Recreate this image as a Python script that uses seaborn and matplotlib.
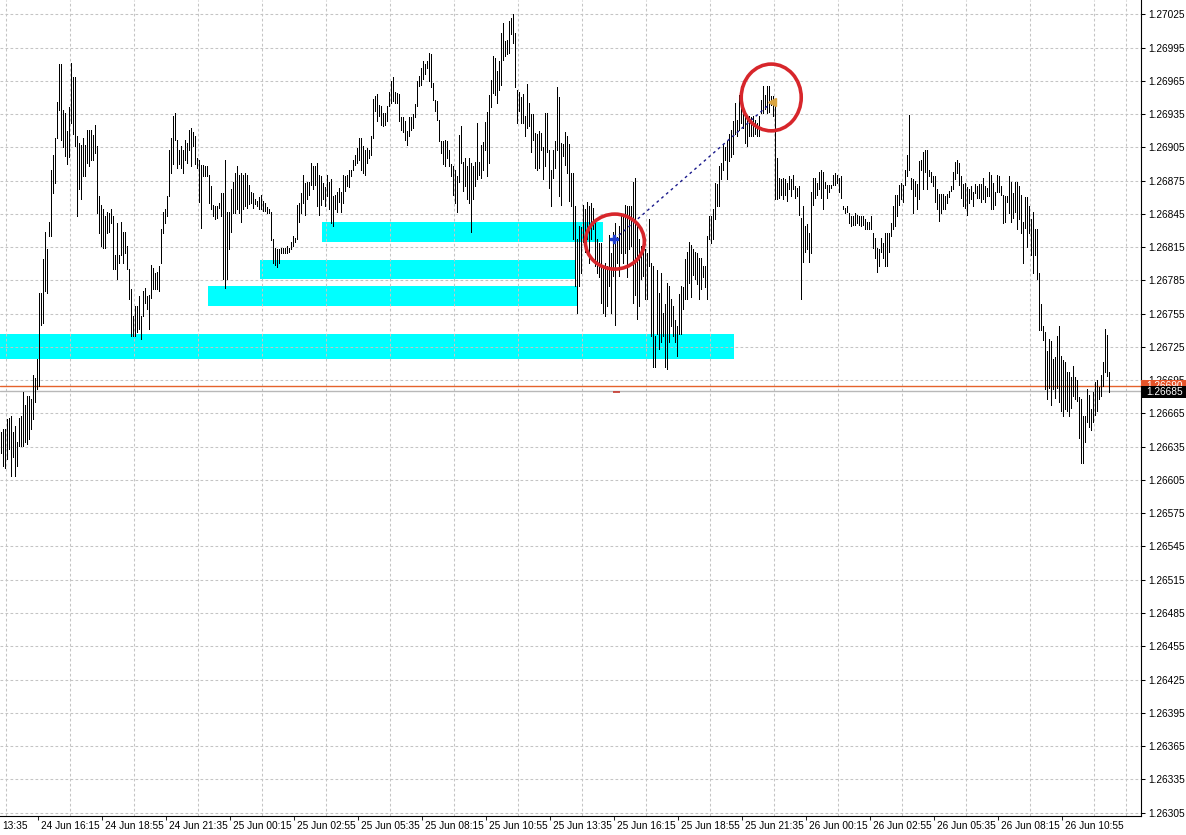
import numpy as np
import pandas as pd
import matplotlib
matplotlib.use("Agg")
import matplotlib.pyplot as plt
import seaborn as sns
from matplotlib.patches import Rectangle, Ellipse
from matplotlib.transforms import blended_transform_factory

# ---------------- data ----------------
BASE = 1.26      # prices are stored as points (1e-5) above 1.26000
PT = 1e-5

# 5-minute bars, left to right: highs and lows in points above 1.26000
bar_high = [
    648, 651, 651, 660, 661, 663, 648, 654, 639, 661, 663, 684, 673, 681, 681, 678, 700, 697, 714, 774, 774, 804, 829, 813, 838,
    885, 898, 913, 946, 980, 980, 939, 936, 920, 941, 981, 968, 968, 915, 909, 907, 913, 907, 921, 921, 921, 916, 925, 906, 861,
    853, 849, 843, 847, 846, 849, 843, 808, 837, 808, 838, 829, 829, 816, 795, 777, 753, 762, 762, 771, 753, 775, 778, 771, 772,
    799, 796, 792, 793, 798, 831, 847, 849, 861, 903, 913, 933, 936, 912, 903, 906, 903, 912, 909, 921, 922, 919, 915, 895, 894,
    889, 889, 888, 888, 880, 870, 853, 852, 852, 855, 864, 864, 894, 847, 847,
    867, 874, 882, 888, 880, 882, 880, 882, 880, 871, 865, 864, 858, 857, 860, 862, 857, 855, 851, 849, 847, 822, 814, 813, 813,
    814, 814, 814, 816, 814, 820, 825, 823, 853, 855, 864, 880, 873, 874, 874, 891, 888, 888, 891, 880, 879, 873, 869, 880, 874,
    876, 861, 862, 865, 868, 865, 880, 879, 880, 885, 885, 894, 898, 904, 913, 913, 906, 903, 904, 903, 915, 949, 951, 953, 943,
    942, 936, 936, 942, 955, 965, 968, 955, 954, 953, 932, 932, 929, 920, 932, 932, 935, 944, 965, 969, 977, 983, 980, 983, 990,
    989, 963, 948, 947, 930, 911, 911, 912, 911, 903, 890, 888, 885, 879,
    916, 924, 892, 895, 888, 895, 891, 888, 892, 927, 892, 907, 910, 928, 937, 952, 966, 987, 986, 974, 983, 1008, 1017, 1001, 1002,
    1019, 1022, 1025, 1008, 957, 955, 950, 953, 933, 962, 945, 935, 935, 918, 917, 920, 918, 905, 936, 936, 903, 885, 903, 911, 959,
    950, 909, 908, 919, 915, 908, 882, 882, 852, 822, 834, 833, 853, 849, 856, 852, 855, 850, 840, 822, 819, 819, 798, 801, 798,
    826, 810, 829, 837, 824, 834, 843, 844, 853, 852, 852, 852, 874, 877, 837, 822, 816, 819, 813, 810, 840, 801, 798, 735, 794,
    774, 792, 756, 764, 783, 780, 768, 762, 749, 744, 773, 780, 779, 804,
    811, 820, 817, 813, 811, 810, 805, 805, 798, 798, 825, 843, 843, 849, 873, 872, 888, 891, 908, 905, 911, 917, 921, 929, 945,
    930, 952, 960, 936, 933, 934, 933, 932, 933, 930, 927, 933, 948, 960, 952, 960, 960, 951, 951, 942, 895, 877, 876, 877, 876,
    873, 879, 876, 880, 870, 868, 870, 841, 852, 834, 836, 828, 865, 877, 877, 873, 883, 885, 883, 874, 871, 871, 871, 880, 882,
    880, 877, 879, 852, 850, 852, 846, 843, 843, 846, 844, 843, 843, 843, 840, 838, 838, 843, 828, 823, 814, 813, 823, 819, 828,
    828, 828, 837, 852, 862, 862, 871, 873, 871, 885, 898, 934, 877, 876,
    875, 872, 893, 894, 901, 903, 903, 885, 883, 879, 879, 867, 863, 863, 863, 861, 863, 866, 870, 883, 892, 894, 891, 879, 872,
    873, 869, 867, 870, 865, 872, 870, 872, 872, 877, 870, 868, 883, 880, 873, 865, 880, 879, 870, 862, 861, 861, 879, 874, 864,
    874, 874, 870, 862, 838, 860, 860, 852, 840, 847, 831, 831, 792, 764, 744, 738, 721, 732, 730, 714, 716, 735, 744, 717, 713,
    711, 702, 702, 698, 708, 698, 695, 680, 678, 663, 663, 687, 682, 669, 684, 693, 695, 689, 700, 711, 741, 736, 702,
]
bar_low = [
    629, 618, 616, 624, 633, 609, 626, 609, 618, 636, 636, 636, 639, 637, 642, 651, 660, 675, 687, 690, 745, 747, 775, 774, 825,
    825, 864, 873, 913, 939, 912, 905, 897, 890, 896, 927, 917, 906, 843, 867, 858, 879, 879, 891, 888, 894, 894, 900, 846, 828,
    816, 814, 814, 828, 829, 837, 795, 795, 786, 801, 808, 801, 810, 795, 768, 735, 735, 735, 738, 741, 732, 753, 765, 759, 741,
    769, 777, 777, 777, 775, 801, 828, 837, 843, 861, 882, 890, 912, 886, 890, 886, 882, 894, 891, 903, 888, 906, 890, 886, 856,
    832, 879, 879, 879, 855, 849, 843, 840, 841, 850, 843, 786, 778, 786, 813,
    829, 846, 846, 849, 846, 838, 849, 852, 850, 854, 855, 850, 854, 852, 849, 849, 848, 848, 846, 846, 821, 801, 799, 797, 801,
    810, 810, 810, 810, 811, 813, 816, 820, 822, 838, 846, 855, 844, 858, 862, 871, 867, 871, 852, 844, 853, 858, 852, 861, 849,
    837, 834, 849, 847, 856, 847, 855, 866, 870, 869, 879, 885, 889, 891, 894, 885, 882, 880, 891, 895, 898, 913, 938, 929, 933,
    925, 924, 925, 929, 942, 945, 947, 945, 945, 929, 921, 919, 912, 907, 915, 921, 922, 932, 942, 960, 961, 967, 971, 977, 965,
    959, 948, 938, 930, 911, 900, 890, 888, 895, 888, 879, 862, 855, 847,
    874, 891, 866, 870, 858, 855, 829, 858, 870, 876, 880, 877, 885, 903, 879, 891, 941, 954, 952, 945, 957, 961, 984, 987, 989,
    990, 1007, 999, 959, 927, 938, 927, 927, 915, 922, 924, 901, 912, 886, 885, 886, 903, 876, 888, 901, 868, 852, 877, 886, 903,
    861, 853, 897, 889, 882, 857, 852, 822, 780, 756, 780, 792, 820, 811, 822, 801, 822, 831, 798, 792, 788, 765, 756, 753, 762,
    780, 756, 789, 745, 801, 789, 810, 801, 810, 788, 813, 816, 765, 772, 750, 762, 786, 789, 768, 768, 798, 735, 707, 707, 737,
    723, 729, 735, 707, 705, 729, 744, 735, 729, 717, 737, 737, 759, 768,
    768, 783, 770, 790, 786, 782, 768, 777, 788, 779, 768, 822, 819, 822, 840, 852, 852, 876, 885, 894, 876, 893, 896, 899, 917,
    915, 921, 927, 922, 909, 906, 915, 915, 915, 917, 915, 915, 936, 936, 940, 936, 937, 943, 933, 858, 858, 859, 862, 858, 862,
    857, 867, 861, 867, 859, 861, 844, 768, 802, 811, 813, 802, 810, 853, 859, 862, 867, 859, 849, 868, 859, 865, 868, 871, 871,
    873, 865, 859, 849, 846, 847, 837, 834, 835, 835, 837, 835, 834, 835, 831, 831, 831, 831, 814, 805, 793, 798, 811, 805, 798,
    798, 811, 825, 831, 834, 843, 853, 858, 856, 871, 879, 885, 867, 846,
    861, 849, 858, 885, 867, 883, 867, 879, 874, 870, 856, 849, 839, 846, 849, 849, 855, 860, 866, 867, 876, 882, 871, 859, 852,
    850, 844, 855, 858, 852, 864, 859, 859, 856, 858, 856, 861, 861, 849, 849, 853, 865, 865, 862, 837, 838, 856, 846, 838, 841,
    847, 831, 840, 828, 801, 832, 815, 828, 808, 792, 808, 786, 740, 740, 731, 687, 678, 688, 673, 687, 679, 688, 675, 667, 663,
    669, 667, 663, 670, 681, 678, 676, 643, 620, 620, 639, 657, 653, 650, 657, 664, 667, 678, 681, 690, 702, 699, 684,
]
assert len(bar_high) == len(bar_low)

# time axis labels (one every 32 bars)
time_labels = ["24 Jun 16:15", "24 Jun 18:55", "24 Jun 21:35", "25 Jun 00:15", "25 Jun 02:55",
               "25 Jun 05:35", "25 Jun 08:15", "25 Jun 10:55", "25 Jun 13:35", "25 Jun 16:15",
               "25 Jun 18:55", "25 Jun 21:35", "26 Jun 00:15", "26 Jun 02:55", "26 Jun 05:35",
               "26 Jun 08:15", "26 Jun 10:55"]
first_label_tail = "13:35"

# price axis labels
price_ticks = [1.27025, 1.26995, 1.26965, 1.26935, 1.26905, 1.26875, 1.26845, 1.26815, 1.26785,
               1.26755, 1.26725, 1.26695, 1.26665, 1.26635, 1.26605, 1.26575, 1.26545, 1.26515,
               1.26485, 1.26455, 1.26425, 1.26395, 1.26365, 1.26335, 1.26305]

# cyan zones: start bar, end bar, low and high (points)
zone_start = [160.7, 129.7, 103.7, -1.0]
zone_end = [301.2, 287.2, 288.2, 366.7]
zone_low = [820, 786, 762, 714]
zone_high = [838, 803, 780, 737]

# trade: entry (blue) and exit (orange)
trade_bar = [306.8, 385.8]
trade_price = [1.26822, 1.26946]
circle_bar = [307.1, 385.3]
circle_price = [1.26820, 1.26950]
close_mark_bar = 308.0
close_mark_price = 1.26684

ask_price = 1.26690
bid_price = 1.26685

# ---------------- figure ----------------
sns.set_style("white")
plt.rcParams["font.family"] = ["Liberation Sans", "DejaVu Sans"]

W, H = 1186, 835
fig = plt.figure(figsize=(W / 100, H / 100), dpi=100)
ax_right_px, ax_bottom_px = 1141, 816
ax = fig.add_axes([0, 1 - ax_bottom_px / H, ax_right_px / W, ax_bottom_px / H])
ax.set_facecolor("white")

idx = np.arange(len(bar_high))
highs = BASE + np.array(bar_high) * PT
lows = BASE + np.array(bar_low) * PT

# zones
for s, e, lo, hi in zip(zone_start, zone_end, zone_low, zone_high):
    ax.add_patch(Rectangle((s, BASE + lo * PT), e - s, (hi - lo) * PT,
                           facecolor="#00ffff", edgecolor="none", zorder=1))

# price lines
ax.axhline(ask_price, color="#e5622c", lw=1.0, zorder=2.2)
ax.axhline(bid_price, color="#b8b8b8", lw=1.0, zorder=2.1)

# bars
ax.vlines(idx, lows, highs, colors="black", linewidth=0.5, antialiased=False, zorder=3)

# trade line and markers
sns.lineplot(x=trade_bar, y=trade_price, ax=ax, color="#1a1a8c", lw=1.0,
             linestyle=(0, (2, 2.5)), zorder=4, legend=False)
ax.plot(trade_bar[0], trade_price[0], marker="P", ms=5.5, color="#1f3fd0",
        mec="#1f3fd0", zorder=6)
ax.plot(trade_bar[1], trade_price[1], marker="<", ms=5.5, color="#d9a441",
        mec="#d9a441", zorder=6)
ax.hlines(close_mark_price, close_mark_bar - 1.8, close_mark_bar + 1.8,
          color="#c8372d", lw=1.2, zorder=4)

# red circles
circ_w = [29.5, 30.0]
circ_h = [49.6 * PT, 60.2 * PT]
for cb, cp, w, h in zip(circle_bar, circle_price, circ_w, circ_h):
    ax.add_patch(Ellipse((cb, cp), w, h, fill=False, edgecolor="#d7262b",
                         lw=2.6, zorder=7))

# limits
ax.set_xlim(-0.335, 570.2)
ax.set_ylim(BASE + 301.9 * PT, BASE + 1037.9 * PT)

# grid
grid_x = np.arange(2.9, 570, 16)
ax.set_xticks(grid_x, minor=True)
tick_x = 18.9 + 32 * np.arange(len(time_labels))
ax.set_xticks(tick_x)
ax.set_xticklabels([])
ax.set_yticks(price_ticks)
ax.set_yticklabels([f"{p:.5f}" for p in price_ticks])
ax.yaxis.tick_right()
ax.set_axisbelow("line")
gstyle = dict(color="#c4c4c4", linestyle=(0, (2.6, 2.2)), linewidth=0.75)
ax.grid(axis="y", which="major", **gstyle)
ax.grid(axis="x", which="minor", **gstyle)
ax.grid(axis="x", which="major", visible=False)

ax.tick_params(axis="y", which="major", right=True, left=False, direction="out",
               length=3, width=0.75, labelsize=7.3, pad=2, colors="black")
ax.tick_params(axis="x", which="major", bottom=True, direction="out",
               length=3, width=0.75, labelsize=7.3)
ax.tick_params(axis="x", which="minor", length=0)

for sp in ["left", "top"]:
    ax.spines[sp].set_visible(False)
for sp in ["right", "bottom"]:
    ax.spines[sp].set_visible(True)
    ax.spines[sp].set_color("black")
    ax.spines[sp].set_linewidth(0.8)

# time labels, left-aligned after each tick
for xp, lab in zip(tick_x, time_labels):
    ax.annotate(lab, xy=(xp, 0), xycoords=("data", "axes fraction"),
                xytext=(2.5, -5), textcoords="offset pixels",
                ha="left", va="top", fontsize=7.3, color="black", annotation_clip=False)
fig.text(2 / W, 1 - (ax_bottom_px + 5) / H, first_label_tail, ha="left", va="top",
         fontsize=7.3, color="black")

# price boxes on the right axis (bid box drawn over the ask box)
trans = blended_transform_factory(ax.transAxes, ax.transData)
box_w = (W - ax_right_px) / ax_right_px
box_h = 12 * 0.902 * PT
for price, col, z, dy in [(ask_price, "#e5542a", 10, 0.0), (bid_price, "black", 12, -0.6 * PT)]:
    ax.add_patch(Rectangle((1.0, price + dy - box_h / 2), box_w, box_h, transform=trans,
                           facecolor=col, edgecolor="none", clip_on=False, zorder=z))
    ax.text(1.0 + box_w / 2 + 0.001, price + dy, f"{price:.5f}", transform=trans,
            ha="center", va="center", color="white", fontsize=7.3,
            clip_on=False, zorder=z + 1)

fig.savefig("out.png", dpi=100, facecolor="white")
